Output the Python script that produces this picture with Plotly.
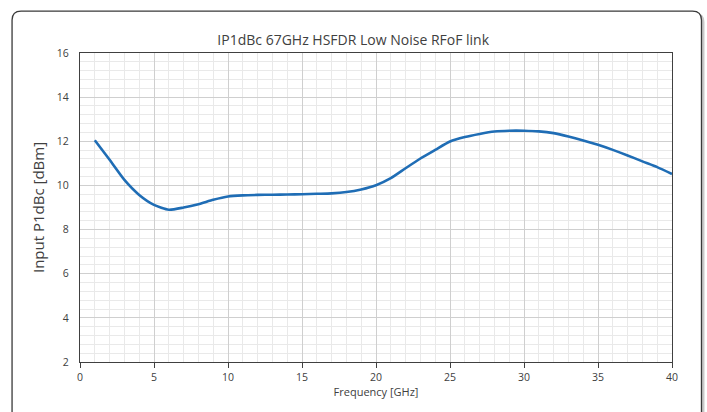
import plotly.graph_objects as go

freq_ghz = [1, 2, 3, 4, 5, 6, 7, 8, 9, 10, 11, 12, 13, 14, 15, 16, 17, 18, 19, 20,
            21, 22, 23, 24, 25, 26, 27, 28, 29, 30, 31, 32, 33, 34, 35, 36, 37, 38, 39, 40]
ip1db_dbm = [12.05, 11.16, 10.25, 9.57, 9.12, 8.9, 9.0, 9.15, 9.35, 9.5, 9.55, 9.57, 9.58, 9.59, 9.6, 9.62, 9.64, 9.7, 9.82, 10.01,
             10.33, 10.78, 11.22, 11.61, 11.99, 12.19, 12.33, 12.44, 12.48, 12.48, 12.45, 12.37, 12.22, 12.04, 11.84, 11.61, 11.36, 11.09, 10.83, 10.52]
x_ticks = [0, 5, 10, 15, 20, 25, 30, 35, 40]
y_ticks = [2, 4, 6, 8, 10, 12, 14, 16]
title_text = "IP1dBc 67GHz HSFDR Low Noise RFoF link"
x_title = "Frequency [GHz]"
y_title = "Input P1dBc [dBm]"

W, H = 707, 412
L, R, T, B = 80, 672.5, 53, 362.5

def px(xpix):
    return (xpix - L) / (R - L)

def py(ypix):
    return (B - ypix) / (B - T)

fig = go.Figure()
fig.add_trace(go.Scatter(x=freq_ghz, y=ip1db_dbm, mode="lines",
                         line=dict(color="#1f6db5", width=2.6, shape="spline", smoothing=0.6),
                         showlegend=False, hoverinfo="skip"))

def rounded_path(x0, y0, x1, y1, r):
    return (f"M {px(x0+r)},{py(y0)} L {px(x1-r)},{py(y0)} Q {px(x1)},{py(y0)} {px(x1)},{py(y0+r)} "
            f"L {px(x1)},{py(y1)} L {px(x0)},{py(y1)} L {px(x0)},{py(y0+r)} Q {px(x0)},{py(y0)} {px(x0+r)},{py(y0)} Z")

shapes = [
    dict(type="path", xref="paper", yref="paper", layer="below",
         path=rounded_path(14, 13, 705, 430, 9), fillcolor="#c8c8c8", line=dict(width=0)),
    dict(type="path", xref="paper", yref="paper", layer="below",
         path=rounded_path(12, 11, 702, 430, 9), fillcolor="white", line=dict(color="#3a3a3a", width=1.3)),
]

font_family = "Open Sans, Liberation Sans, sans-serif"
tickfont = dict(family=font_family, size=10.5, color="#404040")
fig.update_layout(
    width=W, height=H,
    margin=dict(l=L, r=W - R, t=T, b=H - B),
    paper_bgcolor="white", plot_bgcolor="white",
    shapes=shapes,
    title=dict(text=title_text, x=px(376), xanchor="center", y=1 - 40 / H, yanchor="middle",
               font=dict(family=font_family, size=14, color="#404040")),
    xaxis=dict(range=[0, 40], tickvals=x_ticks, ticks="outside", ticklen=5, tickcolor="#404040",
               showline=True, linecolor="#404040", linewidth=1.3, mirror=True,
               showgrid=True, gridcolor="#cfcfcf", gridwidth=1, zeroline=False,
               minor=dict(dtick=1, tick0=0, showgrid=True, gridcolor="#e9e9e9", ticks=""),
               tickfont=tickfont,
               title=dict(text=x_title, font=dict(family=font_family, size=11, color="#404040"), standoff=4)),
    yaxis=dict(range=[2, 16], tickvals=y_ticks, ticks="outside", ticklen=8, tickcolor="rgba(0,0,0,0)",
               showline=True, linecolor="#404040", linewidth=1.3, mirror=True,
               showgrid=True, gridcolor="#cfcfcf", gridwidth=1, zeroline=False,
               minor=dict(dtick=0.4, tick0=2, showgrid=True, gridcolor="#e9e9e9", ticks=""),
               tickfont=tickfont,
               title=dict(text=y_title, font=dict(family=font_family, size=15, color="#404040"), standoff=8)),
)

fig.write_html("out.html", config={"displayModeBar": False},
               post_script="document.body.style.margin='0';document.body.style.overflow='hidden';")
